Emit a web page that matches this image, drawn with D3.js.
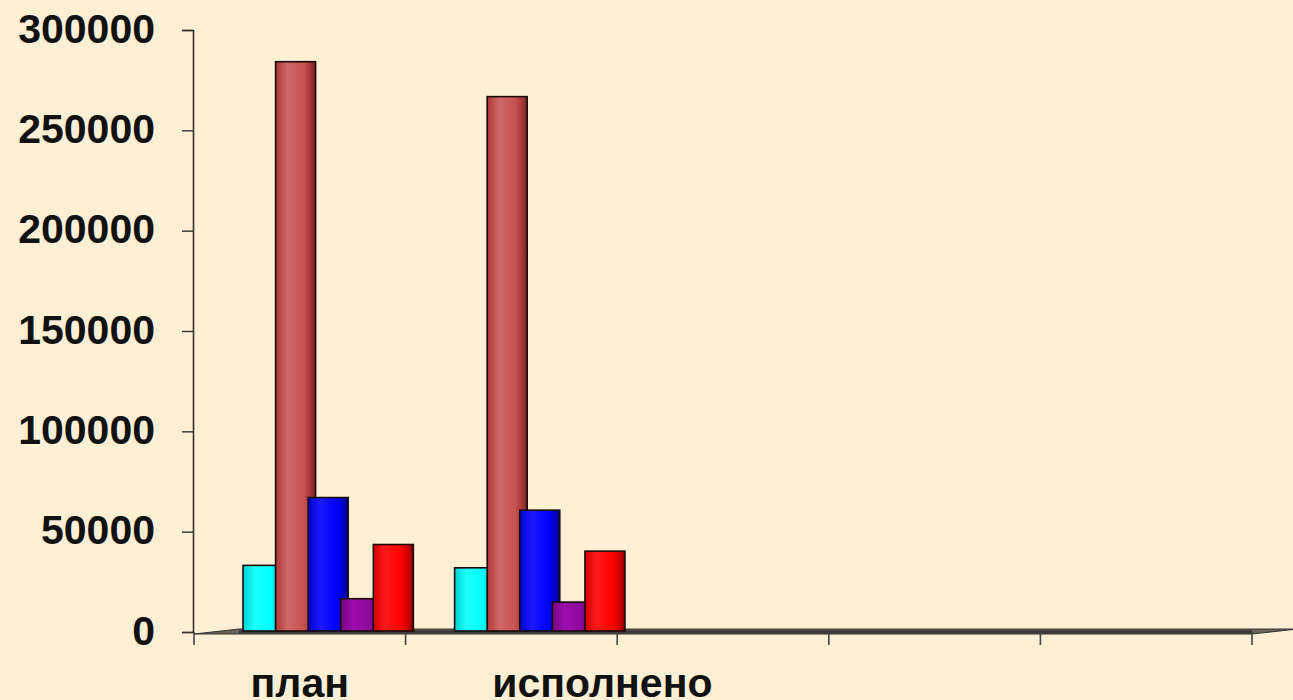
<!DOCTYPE html>
<html>
<head>
<meta charset="utf-8">
<script src="https://cdn.jsdelivr.net/npm/d3@7/dist/d3.min.js"></script>
<style>
  html, body { margin: 0; padding: 0; background: #FFEFD5; }
  svg { display: block; }
  text { font-family: "Liberation Sans", Arial, sans-serif; font-weight: bold; fill: #111; }
</style>
</head>
<body>
<svg id="chart" width="1293" height="700"></svg>
<script>
(function () {
// ---- data ----
const categories = ["план", "исполнено", "", "", ""];
const seriesNames = ["s1", "s2", "s3", "s4", "s5"];
const seriesColors = ["#00FFFF", "#C85252", "#0000FF", "#8E0A9E", "#FF0000"];
const s1 = [33200, 32000];
const s2 = [284200, 266800];
const s3 = [67000, 60700];
const s4 = [16600, 14900];
const s5 = [43600, 40300];
const seriesValues = [s1, s2, s3, s4, s5];
const yTicks = [0, 50000, 100000, 150000, 200000, 250000, 300000];

// ---- layout ----
const W = 1293, H = 700;
const mLeft = 194, mRight = 1252, mTop = 30, mBottom = 632;
const svg = d3.select("#chart");

const x = d3.scaleBand().domain(d3.range(categories.length)).range([mLeft, mRight]).padding(0);
const y = d3.scaleLinear().domain([0, 300000]).range([mBottom, mTop]);
const bw = x.bandwidth();
const barOffset = 0.2316 * bw, barStep = 0.154 * bw, barWidth = 0.189 * bw;
const labelPos = [0.5, 0.93];

// gradients
const defs = svg.append("defs");
function shade(c, k) { const h = d3.hsl(c); h.l = Math.max(0, Math.min(1, h.l * k)); return h.formatHex(); }
seriesColors.forEach((c, i) => {
  const g = defs.append("linearGradient").attr("id", "g" + i).attr("x1", "0").attr("x2", "1").attr("y1", "0").attr("y2", "0");
  g.append("stop").attr("offset", "0%").attr("stop-color", shade(c, 0.82));
  g.append("stop").attr("offset", "30%").attr("stop-color", shade(c, 1.1));
  g.append("stop").attr("offset", "70%").attr("stop-color", c);
  g.append("stop").attr("offset", "90%").attr("stop-color", shade(c, 0.75));
  g.append("stop").attr("offset", "100%").attr("stop-color", shade(c, 0.5));
});

// floor
svg.append("polygon")
  .attr("points", [[mLeft, mBottom + 2], [mRight, mBottom + 2], [W + 5, mBottom - 3], [mLeft + 45, mBottom - 3]].map(p => p.join(",")).join(" "))
  .attr("fill", "#6b6258").attr("stroke", "#333").attr("stroke-width", 1);
svg.append("line").attr("x1", mLeft + 45).attr("x2", mRight).attr("y1", mBottom).attr("y2", mBottom)
  .attr("stroke", "#3a3a3a").attr("stroke-width", 3.5);

// y axis
const yAxis = d3.axisLeft(y).tickValues(yTicks).tickSize(11).tickPadding(27).tickFormat(d3.format("d"));
const ya = svg.append("g").attr("transform", `translate(${mLeft - 1},0)`).call(yAxis);
ya.select(".domain").attr("stroke", "#333").attr("stroke-width", 1.6);
ya.selectAll(".tick line").attr("stroke", "#333").attr("stroke-width", 1.4);
ya.selectAll(".tick text").attr("font-size", 41).attr("font-family", "Liberation Sans, Arial, sans-serif")
  .attr("font-weight", "bold").attr("fill", "#111").attr("dy", "0.30em");

// x axis ticks at band boundaries
const xb = d3.range(categories.length + 1).map(i => mLeft + i * bw);
svg.selectAll(".xt").data(xb).enter().append("line")
  .attr("x1", d => d).attr("x2", d => d).attr("y1", mBottom).attr("y2", mBottom + 13)
  .attr("stroke", "#444").attr("stroke-width", 1.6);

// bars
seriesValues.forEach((vals, si) => {
  svg.append("g").selectAll("rect").data(vals).enter().append("rect")
    .attr("x", (d, ci) => x(ci) + barOffset + si * barStep)
    .attr("y", d => y(d))
    .attr("width", barWidth)
    .attr("height", d => y(0) - y(d) - 1)
    .attr("fill", `url(#g${si})`)
    .attr("stroke", "#1a0a0a").attr("stroke-width", 1.6);
});

// category labels
svg.selectAll(".cat").data(categories.slice(0, 2)).enter().append("text")
  .attr("x", (d, i) => x(i) + labelPos[i] * bw)
  .attr("y", 697)
  .attr("text-anchor", "middle")
  .attr("font-size", 41)
  .text(d => d);
})();
</script>
</body>
</html>
